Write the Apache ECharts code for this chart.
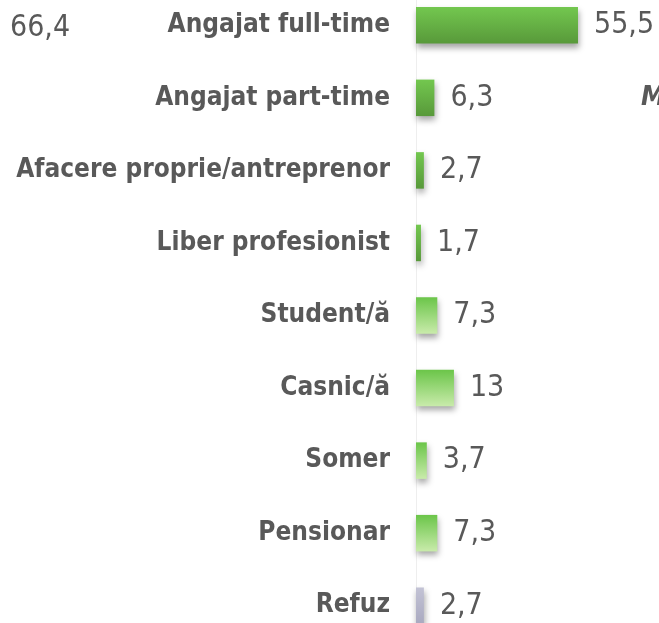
<!DOCTYPE html>
<html>
<head>
<meta charset="utf-8">
<script src="https://cdn.jsdelivr.net/npm/echarts@6/dist/echarts.min.js"></script>
<style>
html, body { margin: 0; padding: 0; background: #fff; overflow: hidden; }
#Chart { position: absolute; left: 0; top: -11px; width: 659px; height: 653px; }
</style>
</head>
<body>
<div id="Chart"></div>
<script>
// date
var categorii = ["Angajat full-time", "Angajat part-time", "Afacere proprie/antreprenor", "Liber profesionist",
    "Student/ă", "Casnic/ă", "Somer", "Pensionar", "Refuz"];
var valori = [55.5, 6.3, 2.7, 1.7, 7.3, 13, 3.7, 7.3, 2.7];
// grup culoare: 0 = activi, 1 = inactivi, 2 = refuz
var grupuri = [0, 0, 0, 0, 1, 1, 1, 1, 2];
var textStanga = "66,4";
var textDreapta = "M";

var textColor = "#595959";
var fontName = "DejaVu Sans Condensed";

function gradient(g) {
    if (g == 0) {
        return new echarts.graphic.LinearGradient(0, 0, 0, 1, [
            { offset: 0, color: "#73c74f" },
            { offset: 1, color: "#58993a" }
        ]);
    }
    if (g == 1) {
        return new echarts.graphic.LinearGradient(0, 0, 0, 1, [
            { offset: 0, color: "#6bc549" },
            { offset: 1, color: "#c9ebab" }
        ]);
    }
    return new echarts.graphic.LinearGradient(0, 0, 0, 1, [
        { offset: 0, color: "#c3c3d5" },
        { offset: 1, color: "#a9a9c0" }
    ]);
}

var dataBar = valori.map(function (v, i) {
    return {
        value: v,
        itemStyle: { color: gradient(grupuri[i]) }
    };
});

var myChart = echarts.init(document.getElementById("Chart"));
var option = {
    animation: false,
    grid: {
        left: 416,
        right: 9.5,
        top: 0,
        bottom: 0,
        containLabel: false
    },
    xAxis: {
        type: 'value',
        min: 0,
        max: 80,
        show: false
    },
    yAxis: {
        type: 'category',
        data: categorii,
        inverse: true,
        axisLine: {
            show: true,
            lineStyle: { color: "#eeeeee", width: 1 }
        },
        axisTick: { show: false },
        axisLabel: {
            margin: 26,
            color: textColor,
            fontFamily: fontName,
            fontWeight: 'bold',
            fontSize: 26,
            padding: [5, 0, 0, 0]
        }
    },
    series: [
        {
            type: 'bar',
            data: dataBar,
            barWidth: 36.5,
            itemStyle: {
                shadowColor: "rgba(0,0,0,0.35)",
                shadowBlur: 6,
                shadowOffsetY: 4,
                shadowOffsetX: 1
            },
            label: {
                show: true,
                position: 'right',
                distance: 16,
                color: textColor,
                fontFamily: fontName,
                fontSize: 30,
                padding: [5, 0, 0, 0],
                formatter: function (p) {
                    return String(p.value).replace('.', ',');
                }
            }
        }
    ],
    graphic: [
        {
            type: 'text',
            left: 10,
            top: 24,
            style: {
                text: textStanga,
                fill: textColor,
                font: "30px '" + fontName + "'"
            }
        },
        {
            type: 'text',
            left: 641,
            top: 95,
            style: {
                text: textDreapta,
                fill: textColor,
                font: "italic bold 27px '" + fontName + "'"
            }
        }
    ]
};
myChart.setOption(option);
</script>
</body>
</html>
